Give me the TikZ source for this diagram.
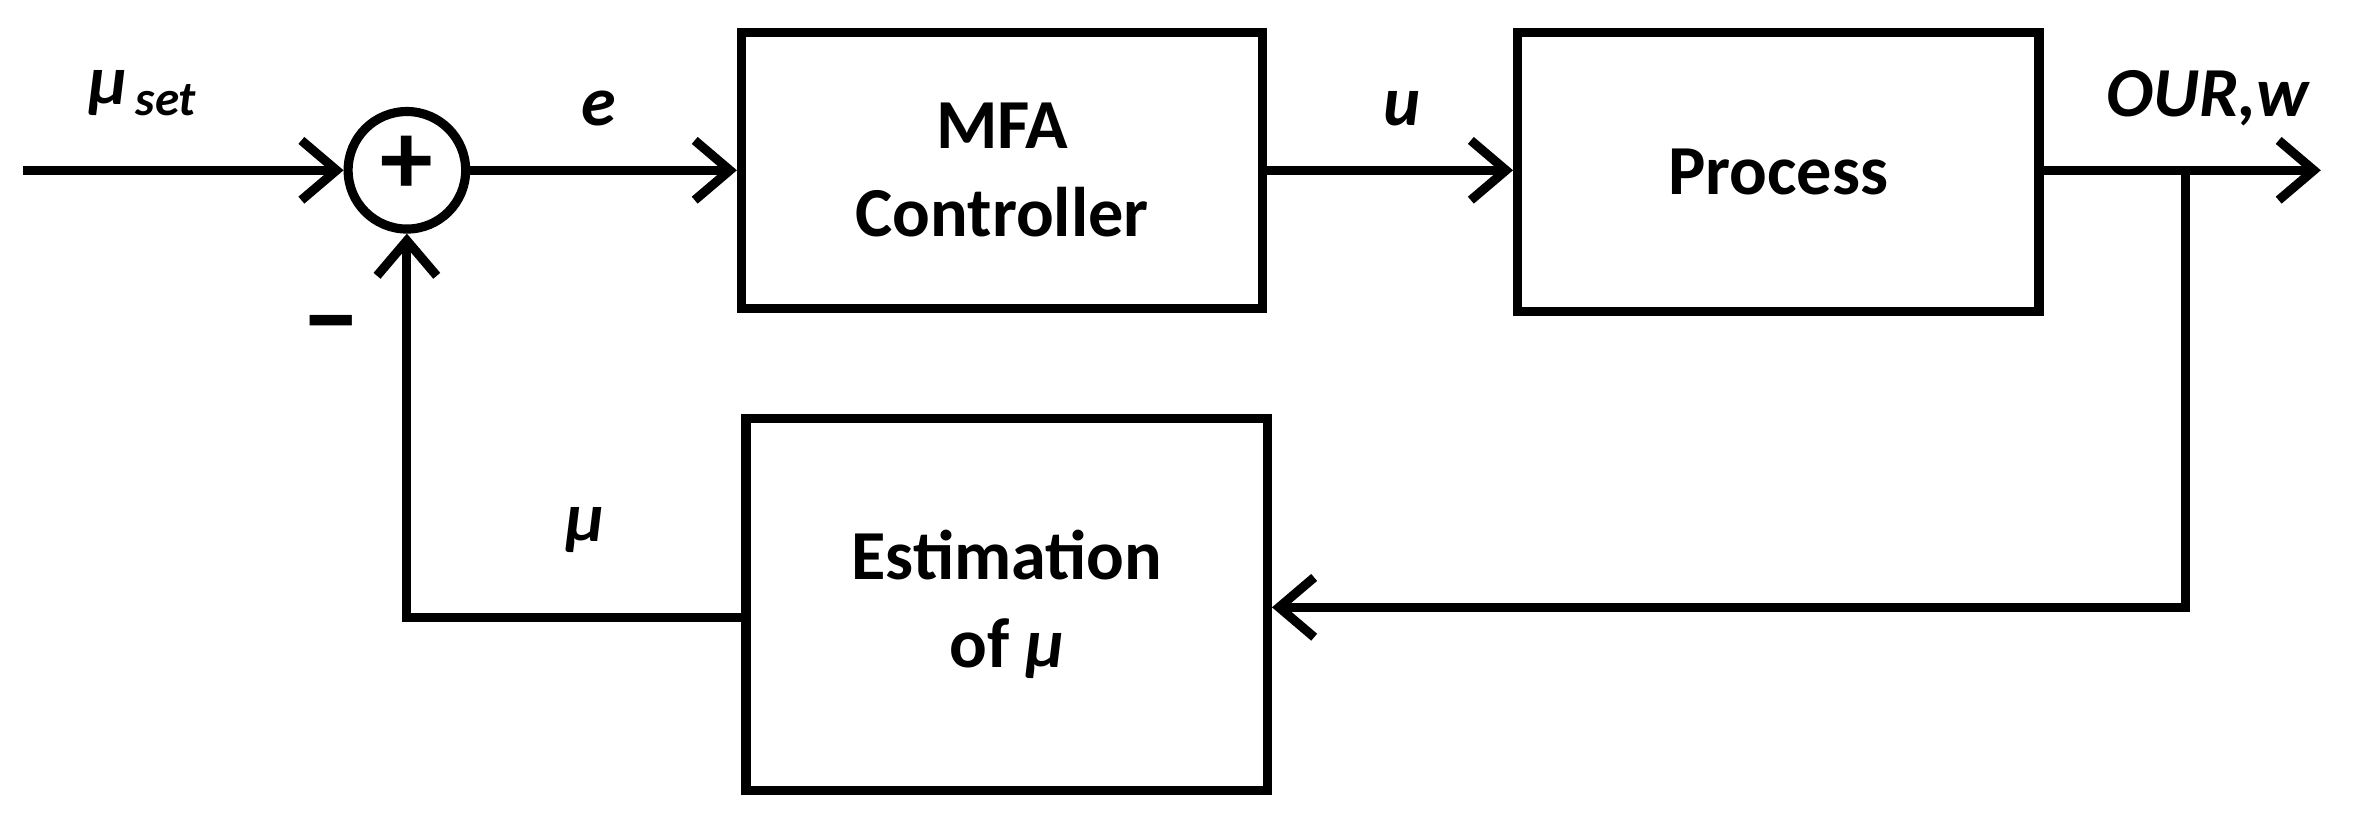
\documentclass[tikz,border=0pt]{standalone}
\usepackage{fontspec}
\setmainfont{Carlito}
\usetikzlibrary{arrows.meta}
\begin{document}
\begin{tikzpicture}[x=0.01507cm,y=-0.01507cm,
  line width=2.6pt,
  box/.style={draw,line width=2.6pt,minimum width=346*0.01507cm,align=center,font=\fontsize{20}{25}\selectfont\bfseries},
  lab/.style={font=\fontsize{20}{24}\selectfont\bfseries\itshape},
  arr/.style={-{Straight Barb[length=10pt,width=17pt]}}]
\useasboundingbox (0,0) rectangle (1568,551);
\node[box,minimum height=183*0.01507cm] (mfa) at (665,113) {MFA\\Controller};
\node[box,minimum height=185*0.01507cm] (proc) at (1180,114) {Process};
\node[box,minimum height=247*0.01507cm] (est) at (668,401) {Estimation\\of \textit{μ}};
\node[draw,circle,line width=2.6pt,minimum size=78*0.01507cm,inner sep=0] (sum) at (270,113) {};
\node[font=\fontsize{30}{30}\selectfont\bfseries] at (270,110) {+};
\coordinate (in) at (15,113);
\coordinate (out) at (1540,113);
\coordinate (br) at (1450,113);
\coordinate (c1) at (1450,403);
\coordinate (c2) at (405,410);
\draw[arr] (in) -- (sum);
\draw[arr] (sum) -- (mfa.west);
\draw[arr] (mfa.east) -- (proc.west |- mfa.east);
\draw[arr] (proc.east |- out) -- (out);
\draw[arr] (br) -- (c1) -- (est.east |- c1);
\draw[arr] (est.west |- c2) -| (sum.south);
\node[lab] at (95,62) {μ\textsubscript{\,set}};
\node[lab] at (397,72) {e};
\node[lab] at (930,72) {u};
\node[lab] at (1465,65) {OUR,w};
\node[font=\fontsize{34}{34}\selectfont\bfseries] at (220,222) {–};
\node[lab] at (388,352) {μ};
\end{tikzpicture}
\end{document}
